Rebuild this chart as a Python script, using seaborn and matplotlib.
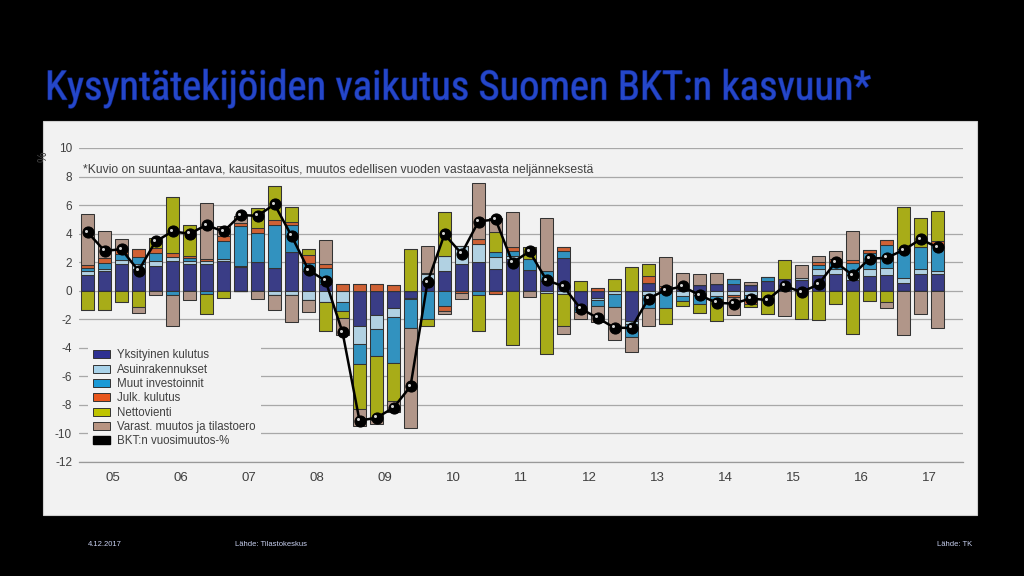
import numpy as np
import pandas as pd
import seaborn as sns
import matplotlib.pyplot as plt
import matplotlib.patheffects as pe
import matplotlib.transforms as mtransforms
from matplotlib.patches import Patch, Rectangle

# vuosineljännekset 2005Q1 - 2017Q3
years = [f"{y:02d}" for y in range(5, 18)]
quarters = [f"20{y}Q{q}" for y in years for q in range(1, 5)][:51]

# kontribuutiot, %-yksikköä
yksityinen = [1.1, 1.35, 1.85, 1.5, 1.75, 2.1, 1.9, 1.9,
              2.1, 1.65, 2.0, 1.57, 2.73, 1.35, 0.5, 0.0,
              -2.5, -1.7, -1.2, -0.5, 0.7, 1.35, 1.85, 2.03,
              1.5, 2.2, 1.45, 0.65, 2.27, -1.17, -0.5, 0.0,
              -2.1, 0.55, 0.2, 0.1, 0.4, 0.45, 0.45, 0.4,
              0.7, 0.8, 0.75, 1.1, 1.15, 0.75, 1.03, 1.1,
              0.56, 1.2, 1.17]
asuin = [0.3, 0.15, 0.3, 0.4, 0.3, 0.25, 0.2, 0.2,
         0.12, 0.05, 0.0, -0.3, -0.3, -0.63, -0.8, -0.8,
         -1.25, -0.95, -0.65, -0.05, 0.5, 1.1, 1.25, 1.24,
         0.84, 0.25, 0.0, -0.15, -0.2, 0.0, -0.15, -0.25,
         -0.2, -0.3, -0.1, -0.35, -0.3, -0.35, -0.3, -0.3,
         0.0, 0.0, 0.15, 0.4, 0.4, 0.35, 0.47, 0.47,
         0.35, 0.3, 0.2]
muut_inv = [0.2, 0.45, 0.45, 0.45, 0.6, -0.3, 0.2, -0.25,
            1.23, 2.85, 2.05, 3.05, 1.87, 0.58, 1.1, -0.65,
            -1.4, -1.9, -3.2, -2.05, -2.0, -1.1, 0.0, -0.3,
            0.4, 0.35, 0.75, 0.75, 0.5, -0.35, -0.45, -0.9,
            -0.95, -0.9, -1.1, -0.4, -0.6, -0.25, 0.35, -0.3,
            0.25, 0.0, 0.0, 0.3, 0.47, 0.85, 1.12, 1.64,
            2.0, 1.55, 1.8]
julk = [0.2, 0.35, 0.3, 0.55, 0.35, 0.3, 0.15, 0.15,
        0.35, 0.2, 0.35, 0.35, 0.23, 0.58, 0.3, 0.45,
        0.45, 0.45, 0.4, 0.0, 0.05, -0.3, -0.15, 0.35,
        -0.2, 0.25, 0.0, 0.0, 0.28, 0.0, 0.2, 0.0,
        0.0, 0.5, 0.15, 0.3, 0.0, 0.0, -0.15, -0.35,
        0.0, 0.0, 0.0, 0.2, 0.23, 0.2, 0.25, 0.35,
        0.0, 0.0, 0.3]
nettovienti = [-1.35, -1.35, -0.8, -1.15, 0.7, 3.95, 2.15, -1.4,
               -0.5, 0.0, 1.4, 2.4, 1.05, 0.4, -2.05, -0.45,
               -3.15, -4.5, -2.7, 2.9, -0.5, 3.05, 0.0, -2.5,
               1.35, -3.8, 0.85, -4.3, -2.3, 0.7, 0.0, 0.8,
               1.65, 0.8, -1.1, -0.3, -0.65, -1.5, 0.0, -0.2,
               -1.65, 1.35, -2.0, -2.05, -0.9, -3.05, -0.7, -0.77,
               2.97, 2.05, 2.1]
varast = [3.6, 1.85, 0.75, -0.4, -0.3, -2.2, -0.65, 3.9,
          0.75, 0.5, -0.55, -1.05, -1.87, -0.88, 1.65, -1.2,
          -1.2, -0.3, -0.75, -7.0, 1.85, -0.2, -0.45, 3.92,
          0.98, 2.5, -0.42, 3.7, -0.5, -0.45, -1.1, -2.3,
          -1.05, -1.25, 2.0, 0.85, 0.8, 0.8, -1.25, 0.2,
          0.0, -1.8, 0.9, 0.45, 0.55, 2.0, 0.0, -0.47,
          -3.1, -1.6, -2.64]
bkt = [4.1, 2.8, 2.9, 1.4, 3.45, 4.15, 4.0, 4.6,
       4.15, 5.3, 5.25, 6.05, 3.85, 1.45, 0.7, -2.9,
       -9.1, -8.9, -8.2, -6.7, 0.6, 3.95, 2.6, 4.85,
       5.0, 1.97, 2.75, 0.75, 0.3, -1.25, -1.9, -2.6,
       -2.6, -0.55, 0.05, 0.3, -0.3, -0.85, -0.9, -0.55,
       -0.65, 0.35, -0.1, 0.45, 2.0, 1.1, 2.25, 2.3,
       2.85, 3.6, 3.05]

labels = ["Yksityinen kulutus", "Asuinrakennukset", "Muut investoinnit",
          "Julk. kulutus", "Nettovienti", "Varast. muutos ja tilastoero"]
colors = ["#2e3192", "#a9d3ea", "#1b9ad6", "#e8561c", "#bfc400", "#b89482"]
series = [yksityinen, asuin, muut_inv, julk, nettovienti, varast]

panel = "#f2f2f2"
txt = "#404040"
edge = "#333333"

sns.set_theme(style="white")
plt.rcParams["font.family"] = ["Liberation Sans", "DejaVu Sans"]

fig = plt.figure(figsize=(10.24, 5.76), dpi=100, facecolor="black")
fig.add_artist(Rectangle((43 / 1024, 1 - 515 / 576), 934 / 1024, 394 / 576,
                         transform=fig.transFigure, facecolor=panel,
                         edgecolor="#d0d0d0", lw=0.8, zorder=0))
ax = fig.add_axes([79 / 1024, 1 - 462 / 576, 884 / 1024, 314 / 576])
ax.set_facecolor(panel)

idx = np.arange(len(quarters))
pos_base = np.zeros(len(idx))
neg_base = np.zeros(len(idx))
for vals, col in zip(series, colors):
    v = np.array(vals, dtype=float)
    up = np.clip(v, 0, None)
    down = np.clip(v, None, 0)
    for h, base in ((up, pos_base), (down, neg_base)):
        sns.barplot(x=idx, y=h, bottom=base.copy(), orient="x", native_scale=True,
                    color=col, edgecolor=edge, linewidth=0.75, width=0.82,
                    errorbar=None, ax=ax, zorder=3)
    pos_base += up
    neg_base += down

sns.lineplot(x=idx, y=bkt, color="black", lw=1.8, marker="o", markersize=8,
             markeredgecolor="black", ax=ax, zorder=6)
shine = mtransforms.offset_copy(ax.transData, fig=fig, x=-1.5, y=1.5, units="dots")
ax.plot(idx, bkt, "o", ms=2.2, color="#d0d0d0", mew=0, transform=shine, zorder=7)

ax.set_xlim(-0.5, 51.5)
ax.set_ylim(-12, 10)
ax.set_yticks(range(-12, 11, 2))
ax.set_yticklabels([str(t) for t in range(-12, 11, 2)], fontsize=8.5, color=txt)
ax.yaxis.grid(True, color="#a8a8a8", lw=0.9)
ax.set_axisbelow(True)
ax.tick_params(axis="y", length=0, pad=5)

ax.set_xticks(np.arange(-0.5, 52, 4))
ax.set_xticklabels([])
ax.set_xticks(np.arange(1.5, 52, 4), minor=True)
ax.set_xticklabels(years, minor=True, fontsize=9.5, color=txt)
ax.tick_params(axis="x", which="major", direction="in", length=5, color="#999999", width=0.9)
ax.tick_params(axis="x", which="minor", length=0, pad=7)
ax.set_xlabel("")
ax.set_ylabel("")
for s in ["top", "right", "left"]:
    ax.spines[s].set_visible(False)
ax.spines["bottom"].set_color("#999999")
ax.spines["bottom"].set_linewidth(0.9)

ax.text(0.005, 0.93, "*Kuvio on suuntaa-antava, kausitasoitus, muutos edellisen vuoden "
        "vastaavasta neljänneksestä", transform=ax.transAxes, fontsize=8.7,
        color=txt, va="center", ha="left")

handles = [Patch(facecolor=c, edgecolor=edge, lw=0.7) for c in colors]
handles.append(Patch(facecolor="black", edgecolor="black"))
leg = ax.legend(handles, labels + ["BKT:n vuosimuutos-%"], loc="upper left",
                bbox_to_anchor=(0.01, 0.375), frameon=True, facecolor=panel,
                edgecolor="none", framealpha=1, fontsize=8.3, labelspacing=0.2,
                handlelength=1.5, handleheight=0.7, handletextpad=0.6,
                borderpad=0.45, borderaxespad=0)
for t in leg.get_texts():
    t.set_color(txt)
leg.set_zorder(10)

fig.text(44 / 1024, 1 - 157 / 576, "%", rotation=90, fontsize=8.5, color=txt,
         ha="center", va="center")

# otsikko: kapea fontti, koko sovitetaan alkuperäiseen leveyteen (~825 px)
title = fig.text(45 / 1024, 1 - 88 / 576, "Kysyntätekijöiden vaikutus Suomen BKT:n kasvuun*",
                 fontsize=27, color="#2547c9", ha="left", va="center",
                 family=["Roboto Condensed", "Open Sans Condensed", "DejaVu Sans"],
                 fontstretch="condensed")
title.set_path_effects([pe.withStroke(linewidth=0.9, foreground="#0e2380")])
renderer = fig.canvas.get_renderer()
w = title.get_window_extent(renderer).width
title.set_fontsize(27 * 825 / w)

fig.text(88 / 1024, 1 - 545 / 576, "4.12.2017", fontsize=5.5, color="#c8d0f0",
         ha="left", va="center")
fig.text(235 / 1024, 1 - 545 / 576, "Lähde: Tilastokeskus", fontsize=5.5,
         color="#c8d0f0", ha="left", va="center")
fig.text(937 / 1024, 1 - 545 / 576, "Lähde: TK", fontsize=5.5, color="#c8d0f0",
         ha="left", va="center")

fig.savefig("out.png", dpi=100, facecolor="black")
